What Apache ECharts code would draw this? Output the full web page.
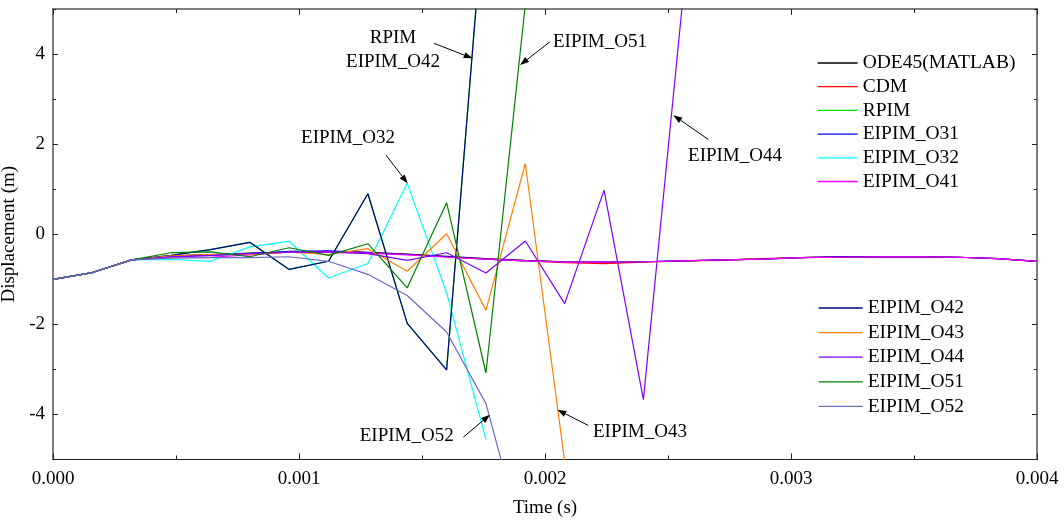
<!DOCTYPE html>
<html>
<head>
<meta charset="utf-8">
<script src="https://cdn.jsdelivr.net/npm/echarts@6/dist/echarts.min.js"></script>
<style>
  html, body { margin: 0; padding: 0; background: #fff; }
  #chart { width: 1064px; height: 521px; }
</style>
</head>
<body>
<div id="chart"></div>
<script>
// Sample instants (s)
const times = [0, 0.00016, 0.00032, 0.00048, 0.00064, 0.0008, 0.00096, 0.00112, 0.00128,
  0.00144, 0.0016, 0.00176, 0.00192, 0.00208, 0.00224, 0.0024, 0.00256, 0.00272, 0.00288,
  0.00304, 0.0032, 0.00336, 0.00352, 0.00368, 0.00384, 0.004];

// Displacement histories (m)
const ode45 = [-1.0, -0.85, -0.57, -0.48, -0.45, -0.42, -0.40, -0.38, -0.40, -0.44, -0.49, -0.54, -0.58,
  -0.61, -0.62, -0.61, -0.59, -0.57, -0.55, -0.52, -0.50, -0.50, -0.50, -0.51, -0.54, -0.60];
const cdm = [-1.0, -0.85, -0.57, -0.49, -0.46, -0.43, -0.40, -0.39, -0.41, -0.45, -0.50, -0.55, -0.59,
  -0.63, -0.65, -0.62, -0.59, -0.58, -0.54, -0.52, -0.50, -0.51, -0.50, -0.51, -0.54, -0.60];
const rpim = [-1.0, -0.85, -0.57, -0.47, -0.34, -0.18, -0.78, -0.60, 0.90, -1.98, -3.01, 7.75];
const o31 = [-1.0, -0.85, -0.57, -0.50, -0.47, -0.43, -0.38, -0.37, -0.41, -0.45, -0.50, -0.55, -0.59,
  -0.61, -0.62, -0.61, -0.59, -0.57, -0.55, -0.52, -0.50, -0.50, -0.50, -0.51, -0.54, -0.60];
const o32 = [-1.0, -0.85, -0.57, -0.56, -0.60, -0.28, -0.16, -0.97, -0.65, 1.13, -1.30, -4.56];
const o41 = [-1.0, -0.85, -0.57, -0.51, -0.51, -0.46, -0.40, -0.39, -0.42, -0.46, -0.51, -0.55, -0.59,
  -0.62, -0.62, -0.61, -0.59, -0.57, -0.55, -0.52, -0.51, -0.50, -0.50, -0.51, -0.54, -0.60];
const o42 = [-1.0, -0.85, -0.57, -0.47, -0.34, -0.18, -0.78, -0.60, 0.90, -1.98, -3.01, 7.75];
const o43 = [-1.0, -0.85, -0.57, -0.48, -0.45, -0.45, -0.40, -0.45, -0.32, -0.82, 0.01, -1.69, 1.57, -5.05];
const o44 = [-1.0, -0.85, -0.57, -0.50, -0.47, -0.43, -0.40, -0.40, -0.43, -0.58, -0.41, -0.86, -0.15,
  -1.54, 0.98, -3.67, 5.2];
const o51 = [-1.0, -0.85, -0.57, -0.41, -0.39, -0.50, -0.30, -0.47, -0.21, -1.19, 0.70, -3.08, 5.1];
const o52 = [-1.0, -0.85, -0.57, -0.53, -0.52, -0.52, -0.50, -0.60, -0.89, -1.36, -2.17, -3.76, -7.0];

// Tick values
const yTicks = [-4, -2, 0, 2, 4];

const FONT = '"Liberation Serif", "Times New Roman", serif';
const FS = 19;

const seriesDefs = [
  { name: 'ODE45(MATLAB)', data: ode45, color: '#000000' },
  { name: 'CDM', data: cdm, color: '#ff0000' },
  { name: 'RPIM', data: rpim, color: '#00e000' },
  { name: 'EIPIM_O31', data: o31, color: '#0000ff' },
  { name: 'EIPIM_O32', data: o32, color: '#00ffff' },
  { name: 'EIPIM_O41', data: o41, color: '#ff00ff' },
  { name: 'EIPIM_O42', data: o42, color: '#000080' },
  { name: 'EIPIM_O43', data: o43, color: '#ff8000' },
  { name: 'EIPIM_O44', data: o44, color: '#8000ff' },
  { name: 'EIPIM_O51', data: o51, color: '#008000' },
  { name: 'EIPIM_O52', data: o52, color: '#6a6ac8' }
];

const series = seriesDefs.map(d => ({
  name: d.name,
  type: 'line',
  xAxisIndex: 0,
  yAxisIndex: 0,
  symbol: 'none',
  clip: true,
  animation: false,
  color: d.color,
  itemStyle: { color: d.color },
  lineStyle: { color: d.color, width: 1.2 },
  data: d.data.map((v, i) => [times[i], v])
}));

const frame = '#555555';
const labelStyle = { fontFamily: FONT, fontSize: FS, color: '#000' };

const legendCommon = {
  orient: 'vertical',
  padding: 0,
  itemHeight: 14,
  itemStyle: { opacity: 0 },
  lineStyle: { width: 1.3 },
  textStyle: { fontFamily: FONT, fontSize: 19.5, color: '#000', lineHeight: 18 },
  selectedMode: false
};

const chart = echarts.init(document.getElementById('chart'), null, { renderer: 'canvas' });

chart.setOption({
  backgroundColor: '#ffffff',
  animation: false,
  grid: { left: 53, right: 27, top: 9, bottom: 61.5, containLabel: false, outerBoundsMode: 'none' },
  legend: [
    Object.assign({}, legendCommon, {
      left: 817, top: 53, itemWidth: 40, itemGap: 3.7,
      data: ['ODE45(MATLAB)', 'CDM', 'RPIM', 'EIPIM_O31', 'EIPIM_O32', 'EIPIM_O41']
    }),
    Object.assign({}, legendCommon, {
      left: 818, top: 298, itemWidth: 44, itemGap: 4.6,
      data: ['EIPIM_O42', 'EIPIM_O43', 'EIPIM_O44', 'EIPIM_O51', 'EIPIM_O52']
    })
  ],
  xAxis: [
    {
      type: 'value', position: 'bottom', min: 0, max: 0.004, interval: 0.001,
      name: 'Time (s)', nameLocation: 'middle', nameGap: 39,
      nameTextStyle: labelStyle,
      axisLine: { show: true, onZero: false, lineStyle: { color: '#222', width: 1 } },
      axisTick: { show: true, inside: true, length: 6, lineStyle: { color: '#222' } },
      minorTick: { show: true, splitNumber: 2, length: 4, lineStyle: { color: '#222' } },
      axisLabel: { show: true, margin: 10, formatter: v => v.toFixed(3), ...labelStyle },
      splitLine: { show: false }
    },
    {
      type: 'value', position: 'top', min: 0, max: 0.004, interval: 0.001,
      axisLine: { show: true, onZero: false, lineStyle: { color: frame, width: 1.5 } },
      axisTick: { show: true, inside: true, length: 6, lineStyle: { color: '#222' } },
      minorTick: { show: true, splitNumber: 2, length: 4, lineStyle: { color: '#222' } },
      axisLabel: { show: false },
      splitLine: { show: false }
    }
  ],
  yAxis: [
    {
      type: 'value', position: 'left', min: -5, max: 5,
      name: 'Displacement (m)', nameLocation: 'middle', nameGap: 27,
      nameTextStyle: labelStyle,
      axisLine: { show: true, onZero: false, lineStyle: { color: frame, width: 1.5 } },
      axisTick: { show: true, inside: true, length: 5, lineStyle: { color: '#222' },
                  customValues: yTicks },
      axisLabel: { show: true, margin: 8, customValues: yTicks, ...labelStyle },
      splitLine: { show: false }
    },
    {
      type: 'value', position: 'right', min: -5, max: 5,
      axisLine: { show: true, onZero: false, lineStyle: { color: frame, width: 1.5 } },
      axisTick: { show: true, inside: true, length: 5, lineStyle: { color: '#222' },
                  customValues: yTicks },
      axisLabel: { show: false },
      splitLine: { show: false }
    },
    {
      // minor ticks on the left edge
      type: 'value', position: 'left', offset: 0, min: -5, max: 5, interval: 1,
      axisLine: { show: false, onZero: false },
      axisTick: { show: true, inside: true, length: 3, lineStyle: { color: '#222' } },
      axisLabel: { show: false },
      splitLine: { show: false }
    },
    {
      // minor ticks on the right edge
      type: 'value', position: 'right', offset: 0, min: -5, max: 5, interval: 1,
      axisLine: { show: false, onZero: false },
      axisTick: { show: true, inside: true, length: 3, lineStyle: { color: '#222' } },
      axisLabel: { show: false },
      splitLine: { show: false }
    }
  ],
  series: series
});

// Callout labels with arrows, positioned in data units (time, displacement)
const callouts = [
  { text: 'RPIM\nEIPIM_O42', at: [0.0013821, 4.089], align: 'center',
    from: [0.0015488, 4.238], to: [0.0017061, 3.904] },
  { text: 'EIPIM_O51', at: [0.0020325, 4.267], align: 'left',
    from: [0.0020203, 4.273], to: [0.0018984, 3.756] },
  { text: 'EIPIM_O44', at: [0.0027724, 1.733], align: 'center',
    from: [0.0026638, 2.104], to: [0.0025215, 2.644] },
  { text: 'EIPIM_O32', at: [0.0011992, 2.133], align: 'center',
    from: [0.0013537, 1.756], to: [0.0014419, 1.127] },
  { text: 'EIPIM_O52', at: [0.0014378, -4.489], align: 'center',
    from: [0.0016679, -4.504], to: [0.0017764, -4.007] },
  { text: 'EIPIM_O43', at: [0.0021951, -4.40], align: 'left',
    from: [0.0021760, -4.244], to: [0.0020500, -3.896] }
];

function px(pt) {
  return chart.convertToPixel({ xAxisIndex: 0, yAxisIndex: 0 }, pt);
}

const graphics = [];
callouts.forEach(c => {
  const p = px(c.at);
  const a = px(c.from);
  const b = px(c.to);
  const dx = b[0] - a[0], dy = b[1] - a[1];
  const len = Math.sqrt(dx * dx + dy * dy);
  const ux = dx / len, uy = dy / len;
  const headLen = 9, headHalf = 3.2;
  const bx = b[0] - ux * headLen, by = b[1] - uy * headLen;
  graphics.push({
    type: 'line', silent: true, z: 50,
    shape: { x1: a[0], y1: a[1], x2: bx, y2: by },
    style: { stroke: '#000', lineWidth: 1 }
  });
  graphics.push({
    type: 'polygon', silent: true, z: 50,
    shape: { points: [[b[0], b[1]], [bx - uy * headHalf, by + ux * headHalf], [bx + uy * headHalf, by - ux * headHalf]] },
    style: { fill: '#000' }
  });
  graphics.push({
    type: 'text', silent: true, z: 50,
    x: p[0], y: p[1],
    style: {
      text: c.text, fill: '#000', font: FS + 'px ' + FONT,
      align: c.align, verticalAlign: 'middle', lineHeight: 24
    }
  });
});

chart.setOption({ graphic: graphics });
</script>
</body>
</html>
